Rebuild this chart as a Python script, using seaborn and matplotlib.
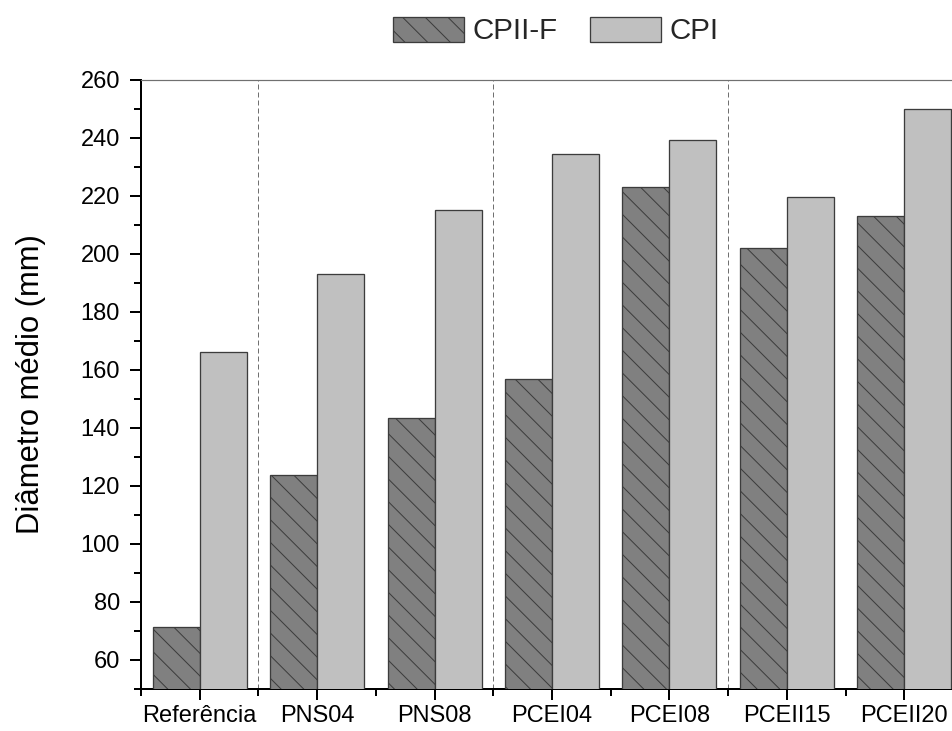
import matplotlib
matplotlib.use("Agg")
import matplotlib.pyplot as plt
from matplotlib.patches import Patch
from matplotlib.ticker import MultipleLocator, FixedLocator
import numpy as np
import pandas as pd
import seaborn as sns

# Mean spread diameter per mix, for the two cement types
categories = ["Referência", "PNS04", "PNS08", "PCEI04", "PCEI08", "PCEII15", "PCEII20"]
series_names = ["CPII-F", "CPI"]
cpii_f = [71.3, 123.7, 143.6, 156.9, 223.0, 202.2, 213.0]
cpi = [166.1, 193.1, 215.1, 234.5, 239.3, 219.7, 249.9]
y_ticks = [60, 80, 100, 120, 140, 160, 180, 200, 220, 240, 260]

df = pd.DataFrame({
    "mistura": categories * 2,
    "cimento": [series_names[0]] * len(categories) + [series_names[1]] * len(categories),
    "diametro": cpii_f + cpi,
})

DPI = 136
def pt(px):
    return px * 72.0 / DPI

sns.set_theme(style="white")
plt.rcParams["font.family"] = ["Liberation Sans", "DejaVu Sans"]
plt.rcParams["hatch.linewidth"] = pt(1.0)
plt.rcParams["lines.scale_dashes"] = False

fig = plt.figure(figsize=(952 / DPI, 731 / DPI), dpi=DPI)
ax = fig.add_axes([141 / 952, 42 / 731, 822 / 952, 609 / 731])

colors = {"CPII-F": "#808080", "CPI": "#c0c0c0"}
edge = "#3c3c3c"
sns.barplot(data=df, x="mistura", y="diametro", hue="cimento", order=categories,
            hue_order=series_names, palette=colors, width=0.8, gap=0,
            edgecolor=edge, linewidth=pt(1.3), legend=False, ax=ax, zorder=3)

for bar in ax.containers[0]:
    bar.set_hatch("\\\\")

# separators between the mix families
for xs in [0.5, 2.5, 4.5]:
    ax.axvline(xs, color="#707070", lw=pt(1.0), linestyle=(0, (pt(5), pt(3))), zorder=1)

ax.set_xlim(-0.5, 6.5)
ax.set_ylim(50, 260)
ax.yaxis.set_major_locator(FixedLocator(y_ticks))
ax.yaxis.set_minor_locator(MultipleLocator(10))
ax.xaxis.set_minor_locator(FixedLocator(np.arange(-0.5, 7.0, 1.0)))

for side in ["left", "bottom"]:
    ax.spines[side].set_color("black")
    ax.spines[side].set_linewidth(pt(2.0))
ax.spines["top"].set_color("#707070")
ax.spines["top"].set_linewidth(pt(1.2))
ax.spines["right"].set_visible(False)

ax.tick_params(axis="both", which="major", direction="out", length=pt(11), width=pt(2.0),
               color="black", labelsize=pt(23.6), labelcolor="black")
ax.tick_params(axis="both", which="minor", direction="out", length=pt(7), width=pt(2.0),
               color="black")
ax.tick_params(axis="y", which="major", pad=pt(10))
ax.tick_params(axis="x", which="major", pad=pt(5.5))
ax.tick_params(top=False, right=False, which="both")
ax.tick_params(left=True, bottom=True, which="both")

ax.set_xlabel("")
ax.set_ylabel("Diâmetro médio (mm)", fontsize=pt(31), color="black")
ax.yaxis.set_label_coords((46 - 141) / 822, 0.5)

handles = [
    Patch(facecolor=colors["CPII-F"], edgecolor=edge, hatch="\\\\", linewidth=pt(1.3)),
    Patch(facecolor=colors["CPI"], edgecolor=edge, linewidth=pt(1.3)),
]
fig.legend(handles, series_names, loc="center", bbox_to_anchor=(556 / 952, 1 - 31 / 731),
           ncol=2, frameon=False, fontsize=pt(29.5), handlelength=2.4, handleheight=0.92,
           handletextpad=0.3, columnspacing=1.1, borderpad=0)

fig.savefig("out.png", dpi=DPI)
